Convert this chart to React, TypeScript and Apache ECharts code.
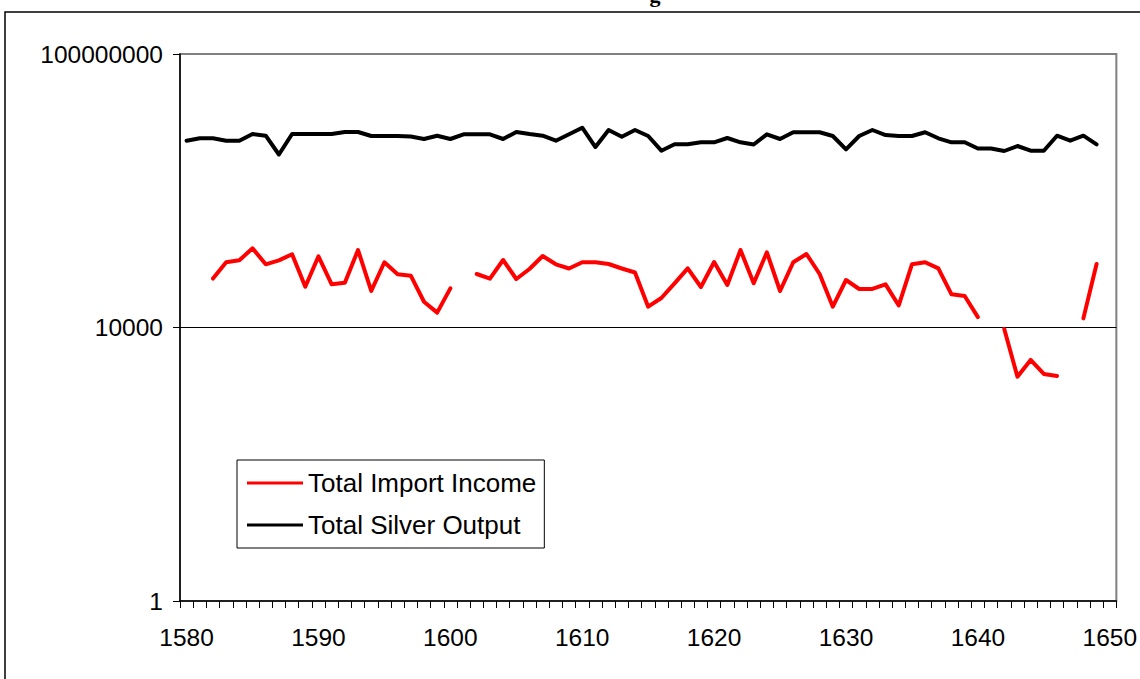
import React, { useEffect, useRef } from "react";
import * as echarts from "echarts";

const years = [
  "1580","1581","1582","1583","1584","1585","1586","1587","1588","1589",
  "1590","1591","1592","1593","1594","1595","1596","1597","1598","1599",
  "1600","1601","1602","1603","1604","1605","1606","1607","1608","1609",
  "1610","1611","1612","1613","1614","1615","1616","1617","1618","1619",
  "1620","1621","1622","1623","1624","1625","1626","1627","1628","1629",
  "1630","1631","1632","1633","1634","1635","1636","1637","1638","1639",
  "1640","1641","1642","1643","1644","1645","1646","1647","1648","1649",
  "1650",
];

const importIncome = [
  null, null, 52000, 90000, 96000, 144000, 84000, 96000, 118000, 39500,
  110000, 42800, 45200, 136000, 34200, 90000, 60000, 57200, 23800, 16500,
  37400, null, 60600, 51700, 97100, 51200, 71700, 111000, 84000, 72900,
  90000, 90000, 84900, 72900, 63700, 20150, 27000, 44300, 73400, 39100,
  90800, 41800, 136000, 44300, 125800, 34200, 90000, 118900, 60600, 20150,
  49500, 36600, 36600, 42800, 21000, 84000, 90000, 73400, 30600, 28900,
  14200, null, 9510, 1910, 3350, 2090, 1950, null, 13600, 84900,
  null,
];

const silverOutput = [
  5395000, 5850000, 5850000, 5395000, 5395000, 6761000, 6385000, 3390000, 6761000, 6761000,
  6761000, 6761000, 7233000, 7233000, 6321000, 6321000, 6321000, 6215000, 5713000, 6385000,
  5713000, 6693000, 6693000, 6693000, 5713000, 7233000, 6761000, 6385000, 5395000, 6693000,
  8356000, 4363000, 7735000, 6173000, 7735000, 6321000, 3853000, 4779000, 4779000, 5111000,
  5111000, 5909000, 5111000, 4747000, 6693000, 5713000, 7160000, 7160000, 7160000, 6321000,
  4039000, 6321000, 7735000, 6535000, 6321000, 6321000, 7160000, 5850000, 5111000, 5111000,
  4150000, 4150000, 3814000, 4512000, 3853000, 3853000, 6385000, 5395000, 6385000, 4779000,
  null,
];

const seriesNames = ["Total Import Income", "Total Silver Output"];
const titleFragment = "g";

const FONT = "'Liberation Sans', Arial, sans-serif";

export default function App() {
  const ref = useRef<HTMLDivElement>(null);
  useEffect(() => {
    if (!ref.current) return;
    const chart = echarts.init(ref.current, null, { renderer: "svg" });
    chart.setOption({
      animation: false,
      backgroundColor: "#ffffff",
      graphic: [
        {
          type: "rect",
          shape: { x: 5, y: 12, width: 1200, height: 720 },
          style: { fill: "none", stroke: "#000", lineWidth: 1.5 },
          z: 0,
        },
        {
          type: "text",
          x: 655,
          y: 5,
          style: {
            text: titleFragment,
            font: "bold 22px 'Liberation Serif', serif",
            fill: "#000",
            textAlign: "center",
            textVerticalAlign: "bottom",
          },
        },
      ],
      grid: {
        left: 180,
        top: 54,
        right: 22,
        bottom: 78,
        show: true,
        borderColor: "#808080",
        borderWidth: 2,
        backgroundColor: "transparent",
      },
      legend: {
        orient: "vertical",
        left: 237,
        top: 460,
        icon: "rect",
        itemWidth: 56,
        itemHeight: 3,
        itemGap: 16,
        padding: [10, 8, 10, 10],
        borderColor: "#000",
        borderWidth: 1,
        backgroundColor: "#fff",
        textStyle: { fontFamily: FONT, fontSize: 26, color: "#000" },
        data: seriesNames,
      },
      xAxis: {
        type: "category",
        data: years,
        boundaryGap: true,
        axisLine: { show: true, lineStyle: { color: "#000", width: 1.5 } },
        axisTick: {
          show: true,
          interval: 0,
          length: 7,
          lineStyle: { color: "#000", width: 1 },
        },
        axisLabel: {
          interval: 9,
          margin: 24,
          fontFamily: FONT,
          fontSize: 24.5,
          color: "#000",
        },
        splitLine: { show: false },
      },
      yAxis: {
        type: "log",
        logBase: 10,
        min: 1,
        max: 100000000,
        interval: 4,
        axisLine: { show: true, lineStyle: { color: "#000", width: 1.5 } },
        axisTick: { show: true, length: 7, lineStyle: { color: "#000" } },
        axisLabel: {
          margin: 17,
          fontFamily: FONT,
          fontSize: 24.5,
          color: "#000",
          formatter: (v: number) => String(Math.round(v)),
        },
        splitLine: {
          show: true,
          showMinLine: false,
          showMaxLine: false,
          lineStyle: { color: "#000", width: 1 },
        },
      },
      series: [
        {
          name: seriesNames[0],
          type: "line",
          data: importIncome,
          symbol: "none",
          connectNulls: false,
          lineStyle: { color: "#ff0000", width: 4, cap: "round", join: "round" },
          itemStyle: { color: "#ff0000" },
        },
        {
          name: seriesNames[1],
          type: "line",
          data: silverOutput,
          symbol: "none",
          lineStyle: { color: "#000000", width: 4, cap: "round", join: "round" },
          itemStyle: { color: "#000000" },
        },
      ],
    });
    return () => chart.dispose();
  }, []);
  return (
    <div
      ref={ref}
      style={{ position: "fixed", left: 0, top: 0, width: 1140, height: 679 }}
    />
  );
}
